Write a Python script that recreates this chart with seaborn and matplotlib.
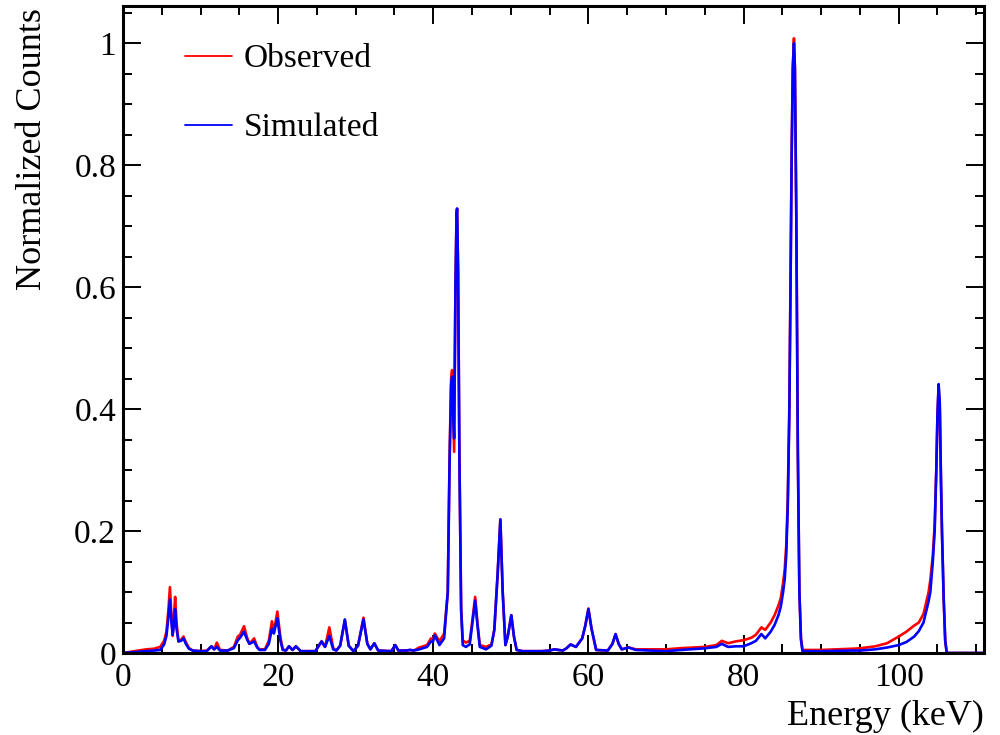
import numpy as np
import pandas as pd
import matplotlib
matplotlib.use("Agg")
import matplotlib.pyplot as plt
import seaborn as sns
from matplotlib.ticker import MultipleLocator, FuncFormatter

# ---- data (energy in keV, normalized counts) ----
energy = [0.0, 1.0, 2.0, 3.0, 4.0, 4.8, 5.3, 5.6, 5.85, 6.05, 6.25, 6.4, 6.55, 6.72, 6.9,
          7.15, 7.5, 7.8, 8.1, 8.5, 9.0, 10.0, 10.8, 11.4, 11.75, 12.1, 12.5, 13.5, 14.3,
          14.8, 15.1, 15.6, 16.0, 16.3, 16.9, 17.3, 17.6, 18.3, 18.8, 19.2, 19.45, 19.9,
          20.3, 20.6, 21.0, 21.4, 21.85, 22.3, 22.9, 24.8, 25.6, 26.05, 26.6, 27.1, 27.5,
          28.0, 28.6, 29.1, 29.7, 30.3, 31.0, 31.5, 31.9, 32.4, 32.9, 34.6, 35.1, 35.5,
          36.5, 37.0, 37.5, 38.2, 39.2, 39.7, 39.95, 40.2, 40.8, 41.4, 41.87, 42.1, 42.3,
          42.43, 42.55, 42.69, 42.86, 43.0, 43.07, 43.2, 43.37, 43.59, 43.8, 44.2, 44.7,
          45.0, 45.4, 45.7, 46.0, 46.8, 47.5, 47.87, 48.3, 48.65, 48.95, 49.3, 49.6, 50.06,
          50.4, 50.75, 51.5, 54.0, 55.0, 55.6, 56.7, 57.2, 57.7, 58.4, 59.2, 59.6, 60.0,
          60.4, 61.0, 62.5, 63.1, 63.5, 63.9, 64.3, 65.2, 66.1, 68.0, 70.0, 72.0, 75.0,
          76.5, 77.2, 78.0, 79.0, 80.0, 81.0, 81.6, 82.3, 82.8, 83.5, 84.0, 84.5, 84.8,
          85.1, 85.3, 85.5, 85.7, 85.9, 86.05, 86.2, 86.35, 86.5, 86.62, 86.8, 87.0, 87.2,
          87.4, 87.6, 88.5, 90.0, 92.0, 94.0, 95.0, 97.0, 98.5, 100.0, 101.0, 102.0, 102.6,
          103.2, 103.86, 104.08, 104.4, 104.64, 104.85, 105.0, 105.15, 105.3, 105.45,
          105.58, 105.8, 106.0, 106.2, 111.0]

observed = [0.000, 0.002, 0.004, 0.006, 0.007, 0.010, 0.020, 0.035, 0.070, 0.108, 0.060, 0.028,
            0.055, 0.092, 0.050, 0.019, 0.022, 0.027, 0.018, 0.008, 0.004, 0.003, 0.004, 0.011,
            0.006, 0.017, 0.005, 0.004, 0.010, 0.027, 0.030, 0.044, 0.025, 0.015, 0.024, 0.010,
            0.006, 0.006, 0.020, 0.052, 0.035, 0.068, 0.025, 0.006, 0.004, 0.011, 0.005, 0.011,
            0.003, 0.003, 0.019, 0.010, 0.042, 0.008, 0.004, 0.012, 0.054, 0.012, 0.003, 0.012,
            0.058, 0.015, 0.006, 0.016, 0.004, 0.003, 0.013, 0.004, 0.004, 0.005, 0.004, 0.009,
            0.013, 0.024, 0.022, 0.032, 0.019, 0.032, 0.100, 0.320, 0.450, 0.464, 0.400, 0.330,
            0.600, 0.720, 0.728, 0.620, 0.320, 0.076, 0.021, 0.017, 0.020, 0.049, 0.092, 0.049,
            0.013, 0.010, 0.014, 0.038, 0.130, 0.219, 0.100, 0.013, 0.027, 0.062, 0.027, 0.005,
            0.003, 0.003, 0.004, 0.006, 0.004, 0.008, 0.014, 0.010, 0.024, 0.045, 0.073, 0.040,
            0.005, 0.004, 0.015, 0.031, 0.015, 0.006, 0.009, 0.006, 0.006, 0.006, 0.008, 0.010,
            0.013, 0.020, 0.016, 0.019, 0.021, 0.025, 0.030, 0.042, 0.038, 0.050, 0.062, 0.078,
            0.090, 0.115, 0.136, 0.175, 0.250, 0.400, 0.600, 0.820, 0.960, 1.008, 0.960, 0.720,
            0.330, 0.100, 0.025, 0.005, 0.005, 0.005, 0.006, 0.007, 0.0077, 0.011, 0.016, 0.027,
            0.035, 0.045, 0.050, 0.064, 0.100, 0.120, 0.160, 0.210, 0.300, 0.390, 0.437, 0.400,
            0.280, 0.200, 0.090, 0.020, 0.000, 0.000]

simulated = [0.000, 0.001, 0.002, 0.003, 0.004, 0.005, 0.014, 0.028, 0.058, 0.088, 0.050, 0.030,
             0.045, 0.072, 0.040, 0.019, 0.020, 0.024, 0.015, 0.007, 0.004, 0.003, 0.003, 0.011,
             0.006, 0.010, 0.004, 0.004, 0.008, 0.021, 0.025, 0.035, 0.022, 0.015, 0.019, 0.009,
             0.005, 0.005, 0.015, 0.040, 0.032, 0.057, 0.020, 0.005, 0.004, 0.011, 0.005, 0.011,
             0.003, 0.003, 0.019, 0.010, 0.028, 0.006, 0.004, 0.012, 0.055, 0.012, 0.003, 0.012,
             0.055, 0.015, 0.006, 0.016, 0.004, 0.003, 0.013, 0.004, 0.004, 0.005, 0.004, 0.006,
             0.010, 0.019, 0.018, 0.029, 0.013, 0.024, 0.100, 0.310, 0.440, 0.453, 0.400, 0.352,
             0.600, 0.720, 0.729, 0.630, 0.320, 0.070, 0.013, 0.010, 0.014, 0.045, 0.086, 0.045,
             0.010, 0.006, 0.012, 0.038, 0.130, 0.219, 0.100, 0.013, 0.027, 0.062, 0.027, 0.005,
             0.003, 0.003, 0.004, 0.006, 0.004, 0.008, 0.014, 0.010, 0.024, 0.045, 0.072, 0.040,
             0.005, 0.004, 0.015, 0.031, 0.015, 0.006, 0.009, 0.005, 0.004, 0.003, 0.005, 0.0077,
             0.010, 0.015, 0.010, 0.011, 0.011, 0.016, 0.020, 0.031, 0.024, 0.035, 0.046, 0.062,
             0.076, 0.100, 0.120, 0.160, 0.240, 0.390, 0.590, 0.810, 0.960, 1.000, 0.960, 0.720,
             0.330, 0.100, 0.022, 0.003, 0.003, 0.003, 0.0035, 0.004, 0.004, 0.006, 0.009, 0.013,
             0.018, 0.027, 0.036, 0.050, 0.085, 0.100, 0.150, 0.200, 0.300, 0.390, 0.441, 0.410,
             0.290, 0.200, 0.090, 0.020, 0.000, 0.000]

series_names = ["Observed", "Simulated"]
series_colors = ["#ff0000", "#0000ff"]
x_label = "Energy (keV)"
y_label = "Normalized Counts"

df = pd.DataFrame({"energy": energy, "Observed": observed, "Simulated": simulated})
long_df = df.melt(id_vars="energy", var_name="series", value_name="counts")

sns.set_theme(style="ticks")
plt.rcParams["font.family"] = ["Liberation Serif", "DejaVu Serif"]
for key in ["text.color", "axes.labelcolor", "xtick.color", "ytick.color", "axes.edgecolor"]:
    plt.rcParams[key] = "black"

fig = plt.figure(figsize=(10, 7.35), dpi=100)
ax = fig.add_axes([0.123, 1 - 653 / 735, 0.861, (653 - 6) / 735])

sns.lineplot(data=long_df, x="energy", y="counts", hue="series",
             hue_order=series_names, palette=series_colors,
             linewidth=1.9, sort=True, estimator=None, ax=ax)

ax.set_xlim(0, 111)
ax.set_ylim(0, 1.061)

ax.xaxis.set_major_locator(MultipleLocator(20))
ax.xaxis.set_minor_locator(MultipleLocator(5))
ax.yaxis.set_major_locator(MultipleLocator(0.2))
ax.yaxis.set_minor_locator(MultipleLocator(0.05))
ax.yaxis.set_major_formatter(FuncFormatter(lambda v, p: f"{v:g}"))
ax.xaxis.set_major_formatter(FuncFormatter(lambda v, p: f"{v:g}"))

ax.tick_params(which="both", direction="in", top=True, right=True, width=1.4,
               colors="black", labelcolor="black")
ax.tick_params(which="major", length=13, labelsize=24)
ax.tick_params(which="minor", length=6.5)
ax.tick_params(axis="x", which="major", pad=7)
ax.tick_params(axis="y", which="major", pad=5)
for s in ax.spines.values():
    s.set_linewidth(2.2)
    s.set_color("black")

ax.set_xlabel(x_label, fontsize=26, loc="right", color="black")
ax.set_ylabel(y_label, fontsize=26, loc="top", color="black")
ax.xaxis.set_label_coords(1.0, -0.072)
ax.yaxis.set_label_coords(-0.086, 0.997)

handles, labels = ax.get_legend_handles_labels()
for h in handles:
    h.set_linewidth(1.3)
leg = ax.legend(handles, labels, loc="upper left", bbox_to_anchor=(0.057, 0.962),
                frameon=False, fontsize=24, handlelength=1.4, handletextpad=0.35,
                labelspacing=1.15, borderaxespad=0)
for t in leg.get_texts():
    t.set_color("black")

fig.savefig("out.png", dpi=100, facecolor="white")
